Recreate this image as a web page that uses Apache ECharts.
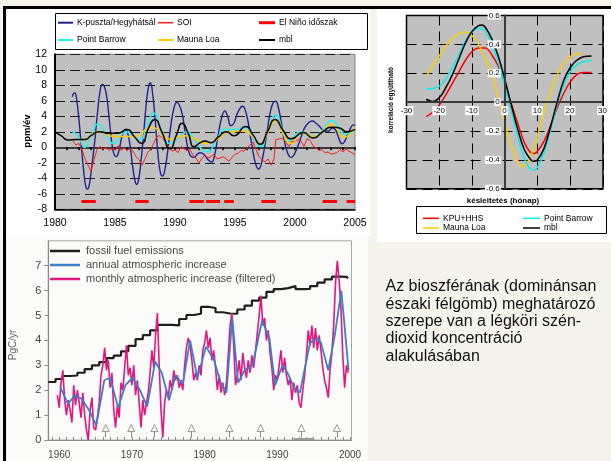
<!DOCTYPE html>
<html><head><meta charset="utf-8">
<script src="https://cdn.jsdelivr.net/npm/echarts@6/dist/echarts.min.js"></script>
<style>html,body{margin:0;padding:0;background:#f4f3ec;} #c{width:611px;height:461px;}</style>
</head><body><div id="c"></div><script>
// ---------- Panel A: growth rates (ppm/év) ----------
const kpuszta = [[1981.45,6.5],[1981.55,6.95],[1981.65,7.0],[1981.8,6.2],[1982.0,3.5],[1982.2,0.0],[1982.4,-3.2],[1982.55,-4.9],[1982.7,-5.4],[1982.85,-4.9],[1983.0,-3.3],[1983.3,0.6],[1983.55,4.6],[1983.75,7.2],[1983.95,8.1],[1984.1,7.9],[1984.3,6.6],[1984.55,3.2],[1984.8,-0.2],[1984.95,-1.0],[1985.1,-1.2],[1985.3,-0.6],[1985.55,1.2],[1985.75,2.1],[1985.9,2.35],[1986.05,1.9],[1986.25,0.3],[1986.45,-2.2],[1986.65,-4.2],[1986.8,-4.8],[1986.95,-4.3],[1987.15,-2.0],[1987.4,2.0],[1987.65,6.3],[1987.85,8.2],[1987.95,8.3],[1988.1,7.4],[1988.35,3.5],[1988.6,-1.2],[1988.8,-3.4],[1988.95,-3.7],[1989.1,-3.3],[1989.35,-1.0],[1989.65,2.8],[1989.95,5.3],[1990.15,5.8],[1990.35,5.5],[1990.6,4.3],[1990.85,1.9],[1991.1,-0.3],[1991.35,-1.2],[1991.6,-1.3],[1991.85,-0.9],[1992.1,-0.7],[1992.4,-0.9],[1992.75,-1.6],[1993.05,-1.9],[1993.3,-1.0],[1993.6,1.6],[1993.9,3.9],[1994.15,4.7],[1994.4,3.9],[1994.65,2.8],[1994.9,3.1],[1995.2,4.4],[1995.5,5.2],[1995.65,5.3],[1995.85,4.8],[1996.1,3.2],[1996.35,0.8],[1996.6,-1.4],[1996.8,-2.5],[1996.95,-2.8],[1997.1,-2.6],[1997.35,-1.0],[1997.65,1.8],[1997.95,4.6],[1998.2,5.8],[1998.4,5.95],[1998.6,5.2],[1998.85,3.3],[1999.1,1.0],[1999.35,-0.6],[1999.55,-1.2],[1999.7,-1.3],[1999.9,-1.0],[2000.2,0.0],[2000.5,1.3],[2000.8,2.5],[2001.15,3.2],[2001.45,3.4],[2001.75,3.1],[2002.1,2.6],[2002.45,2.1],[2002.8,2.1],[2003.1,2.5],[2003.35,2.3],[2003.6,1.4],[2003.8,0.6],[2003.95,0.45],[2004.15,0.8],[2004.4,1.7],[2004.65,2.5],[2004.85,2.9],[2005.0,2.8]];
const pointBarrow = [[1981.45,2.0],[1981.9,1.5],[1982.5,0.0],[1983.0,1.5],[1983.6,3.0],[1984.2,1.8],[1984.9,0.5],[1985.4,1.3],[1985.9,2.0],[1986.5,1.5],[1987.1,1.0],[1987.6,2.5],[1988.25,4.4],[1988.8,2.5],[1989.6,0.5],[1990.3,1.2],[1991.0,2.0],[1991.6,1.0],[1992.2,-0.2],[1992.7,-0.55],[1993.4,0.8],[1994.2,2.3],[1995.0,2.3],[1995.8,2.6],[1996.5,1.2],[1997.1,0.1],[1997.7,2.0],[1998.4,4.15],[1998.9,2.5],[1999.5,0.8],[2000.5,2.0],[2001.4,1.4],[2002.2,2.0],[2003.1,3.45],[2003.6,2.7],[2004.2,1.7],[2004.7,1.9],[2005.0,2.2]];
const maunaLoa = [[1981.45,1.0],[1982.3,1.0],[1983.7,2.0],[1985.0,1.4],[1986.7,1.4],[1988.0,2.6],[1988.8,2.0],[1989.7,1.0],[1990.8,1.5],[1991.5,1.2],[1992.6,0.5],[1993.5,1.0],[1994.5,2.0],[1995.7,2.1],[1996.4,1.5],[1997.1,0.4],[1997.7,1.8],[1998.4,3.4],[1999.0,1.8],[1999.7,0.5],[2000.6,1.9],[2001.6,1.4],[2002.3,2.0],[2003.0,3.0],[2003.5,2.4],[2004.1,1.3],[2004.6,1.7],[2005.0,2.6]];
const mbl = [[1980.0,2.0],[1980.5,1.5],[1981.1,0.95],[1981.8,1.0],[1982.5,1.0],[1983.0,1.5],[1983.7,2.0],[1984.5,1.8],[1985.2,1.8],[1986.0,2.3],[1986.6,1.4],[1987.2,0.5],[1987.8,2.5],[1988.3,3.6],[1988.9,2.0],[1989.6,-0.2],[1990.1,1.5],[1990.6,3.1],[1991.1,1.8],[1991.6,0.1],[1992.1,0.6],[1992.5,0.8],[1993.0,0.6],[1993.6,1.3],[1994.3,2.0],[1994.9,1.5],[1995.9,2.7],[1996.5,1.6],[1997.1,0.4],[1997.7,2.0],[1998.35,3.6],[1999.0,2.2],[1999.7,1.1],[2000.7,1.9],[2001.5,1.2],[2002.3,2.0],[2003.0,2.6],[2003.7,2.5],[2004.3,2.0],[2005.0,2.3]];
const soi = [[1981.5,0.8],[1981.75,0.3],[1982.0,0.5],[1982.25,-0.3],[1982.5,-1.5],[1982.75,-2.3],[1983.0,-3.1],[1983.25,-1.6],[1983.5,-0.3],[1983.75,0.1],[1984.0,-0.2],[1984.25,-0.1],[1984.5,-0.4],[1984.75,-0.2],[1985.0,-0.3],[1985.25,0.2],[1985.5,-0.4],[1985.75,-0.1],[1986.0,-0.4],[1986.25,-0.2],[1986.5,-0.5],[1986.75,-1.2],[1987.0,-1.6],[1987.25,-2.3],[1987.5,-1.5],[1987.75,-0.6],[1988.0,-0.2],[1988.25,0.6],[1988.5,1.4],[1988.75,1.5],[1989.0,1.1],[1989.25,0.6],[1989.5,0.0],[1989.75,-0.5],[1990.0,-0.3],[1990.25,-0.7],[1990.5,0.1],[1990.75,-0.2],[1991.0,-0.4],[1991.25,-0.3],[1991.5,-1.0],[1991.75,-1.4],[1992.0,-2.0],[1992.25,-1.4],[1992.5,-1.0],[1992.75,-1.4],[1993.0,-1.2],[1993.25,-0.9],[1993.5,-1.5],[1993.75,-1.4],[1994.0,-1.2],[1994.25,-1.5],[1994.5,-1.8],[1994.75,-1.3],[1995.0,-0.9],[1995.25,-0.8],[1995.5,-0.4],[1995.75,-0.5],[1996.0,-0.1],[1996.25,0.3],[1996.5,0.7],[1996.75,-0.3],[1997.0,-1.2],[1997.25,-1.6],[1997.5,-1.9],[1997.75,-1.5],[1998.0,-2.3],[1998.25,-1.5],[1998.4,1.0],[1998.75,1.1],[1999.0,1.2],[1999.25,0.6],[1999.5,0.1],[1999.75,0.8],[2000.0,0.7],[2000.25,1.0],[2000.5,0.8],[2000.75,0.1],[2001.0,1.1],[2001.25,0.9],[2001.5,0.2],[2001.75,-0.1],[2002.0,-0.4],[2002.25,-0.3],[2002.5,-0.7],[2002.75,-0.6],[2003.0,-0.9],[2003.25,-0.8],[2003.5,-0.7],[2003.75,-0.3],[2004.0,-0.6],[2004.25,-0.2],[2004.5,-0.5],[2004.75,-0.7],[2005.0,-1.0]];
const elNinoStart = [1982.2, 1986.7, 1991.2, 1992.6, 1994.1, 1997.2, 2002.3, 2004.3];
const elNinoEnd   = [1983.4, 1987.8, 1992.4, 1993.75, 1994.9, 1998.4, 2003.5, 2005.0];
const elNinoLevel = -7;

// ---------- Panel B: lag correlation ----------
const lagKPU = [[-24,-0.10],[-22,-0.07],[-20,-0.02],[-18,0.05],[-16,0.13],[-14,0.21],[-12,0.29],[-10,0.35],[-8,0.375],[-6,0.375],[-4,0.33],[-2,0.25],[0,0.13],[2,-0.01],[4,-0.15],[6,-0.28],[8,-0.35],[9,-0.355],[10,-0.34],[12,-0.27],[14,-0.16],[16,-0.04],[18,0.06],[20,0.14],[22,0.19],[24,0.205],[26.5,0.205]];
const lagBarrow = [[-24,0.09],[-22,0.095],[-20,0.11],[-18,0.16],[-16,0.24],[-14,0.33],[-12,0.42],[-10,0.485],[-8,0.51],[-7,0.51],[-6,0.49],[-4,0.41],[-2,0.28],[0,0.12],[2,-0.06],[4,-0.24],[6,-0.39],[8,-0.465],[9,-0.47],[10,-0.45],[12,-0.35],[14,-0.19],[16,-0.02],[18,0.12],[20,0.21],[22,0.26],[24,0.28],[26.5,0.29]];
const lagMauna = [[-24,0.18],[-22,0.25],[-20,0.32],[-18,0.39],[-16,0.44],[-14,0.475],[-12,0.485],[-10,0.46],[-8,0.40],[-6,0.31],[-4,0.19],[-2,0.03],[0,-0.14],[2,-0.30],[4,-0.42],[5,-0.445],[6,-0.44],[8,-0.37],[10,-0.23],[12,-0.07],[14,0.07],[16,0.19],[18,0.27],[20,0.315],[22,0.335],[23.5,0.33]];
const lagMbl = [[-24,0.02],[-22,0.005],[-20,0.03],[-18,0.10],[-16,0.19],[-14,0.30],[-12,0.41],[-10,0.49],[-8,0.53],[-7,0.535],[-6,0.52],[-4,0.44],[-2,0.32],[0,0.16],[2,-0.02],[4,-0.19],[6,-0.33],[8,-0.40],[9,-0.41],[10,-0.40],[12,-0.32],[14,-0.17],[16,0.0],[18,0.15],[20,0.24],[22,0.29],[24,0.315],[26.5,0.32]];

// ---------- Panel C: PgC/yr ----------
const fossil = [[1958.5,2.33],[1959.5,2.45],[1960.5,2.57],[1961.5,2.59],[1962.5,2.70],[1963.5,2.85],[1964.5,3.00],[1965.5,3.13],[1966.5,3.29],[1967.5,3.39],[1968.5,3.56],[1969.5,3.78],[1970.5,4.05],[1971.5,4.21],[1972.5,4.40],[1973.5,4.62],[1974.5,4.62],[1975.5,4.60],[1976.5,4.86],[1977.5,5.02],[1978.5,5.07],[1979.5,5.35],[1980.5,5.30],[1981.5,5.13],[1982.5,5.08],[1983.5,5.07],[1984.5,5.24],[1985.5,5.40],[1986.5,5.60],[1987.5,5.72],[1988.5,5.95],[1989.5,6.06],[1990.5,6.10],[1991.5,6.18],[1992.5,6.06],[1993.5,6.07],[1994.5,6.18],[1995.5,6.32],[1996.5,6.45],[1997.5,6.56],[1998.5,6.55],[1999.5,6.50],[1999.75,6.50]];
const annualIncrease = [[1960.1,2.15],[1961.2,1.45],[1962.2,1.8],[1963.1,1.65],[1964.1,1.2],[1965.1,0.6],[1966.2,2.4],[1967.0,2.5],[1968.1,1.3],[1969.1,2.2],[1970.1,2.5],[1971.1,2.0],[1972.1,1.35],[1973.2,3.15],[1974.1,2.7],[1975.1,1.6],[1976.0,2.6],[1977.0,2.25],[1978.0,4.0],[1979.0,2.5],[1980.2,3.75],[1981.3,3.2],[1982.2,2.3],[1983.0,1.9],[1983.8,4.9],[1984.6,2.3],[1985.5,2.8],[1986.6,3.0],[1987.9,4.8],[1988.9,4.1],[1989.7,2.2],[1990.7,3.0],[1991.4,2.7],[1992.3,2.1],[1993.1,1.9],[1994.5,3.9],[1995.5,4.1],[1996.0,3.9],[1997.0,2.8],[1997.9,4.2],[1998.8,6.0],[1999.8,2.8]];
const monthlyIncrease = [[1959.75,1.8],[1960.0,1.3],[1960.25,2.3],[1960.5,2.8],[1960.75,1.6],[1961.0,1.0],[1961.25,1.6],[1961.5,1.2],[1961.75,0.7],[1962.0,2.2],[1962.25,1.4],[1962.5,2.0],[1962.75,1.5],[1963.0,0.9],[1963.25,1.9],[1963.5,1.0],[1963.75,0.4],[1964.0,0.0],[1964.25,1.2],[1964.5,1.7],[1964.75,0.5],[1965.0,0.4],[1965.25,0.9],[1965.5,1.5],[1965.75,2.6],[1966.0,3.0],[1966.25,3.7],[1966.5,2.8],[1966.75,3.2],[1967.0,2.1],[1967.25,2.7],[1967.5,1.2],[1967.75,0.5],[1968.0,1.4],[1968.25,0.9],[1968.5,2.3],[1968.75,2.0],[1969.0,2.9],[1969.25,3.8],[1969.5,2.6],[1969.75,2.9],[1970.0,2.2],[1970.25,3.0],[1970.5,1.8],[1970.75,2.4],[1971.0,1.5],[1971.25,0.5],[1971.5,1.6],[1971.75,1.0],[1972.0,1.5],[1972.25,1.9],[1972.5,2.7],[1972.75,3.6],[1973.0,2.9],[1973.25,4.2],[1973.5,5.1],[1973.75,3.0],[1974.0,1.2],[1974.25,0.1],[1974.5,1.5],[1974.75,2.0],[1975.0,1.7],[1975.25,2.4],[1975.5,2.0],[1975.75,2.8],[1976.0,2.4],[1976.25,2.6],[1976.5,2.1],[1976.75,2.4],[1977.0,2.0],[1977.25,3.0],[1977.5,3.7],[1977.75,4.1],[1978.0,3.8],[1978.25,3.2],[1978.5,2.4],[1978.75,2.7],[1979.0,2.4],[1979.25,3.0],[1979.5,2.6],[1979.75,3.6],[1980.0,3.9],[1980.25,4.4],[1980.5,3.7],[1980.75,4.1],[1981.0,3.2],[1981.25,3.6],[1981.5,2.9],[1981.75,2.0],[1982.0,2.6],[1982.25,1.9],[1982.5,2.3],[1982.75,1.8],[1983.0,2.3],[1983.25,3.4],[1983.5,4.6],[1983.75,5.1],[1984.0,3.8],[1984.25,2.2],[1984.5,2.6],[1984.75,3.2],[1985.0,2.4],[1985.25,3.5],[1985.5,2.9],[1985.75,2.5],[1986.0,3.2],[1986.25,2.7],[1986.5,3.4],[1986.75,2.9],[1987.0,3.6],[1987.25,4.3],[1987.5,5.0],[1987.75,5.8],[1988.0,4.6],[1988.25,4.9],[1988.5,4.0],[1988.75,4.4],[1989.0,3.5],[1989.25,2.9],[1989.5,2.0],[1989.75,2.6],[1990.0,2.4],[1990.25,3.0],[1990.5,3.6],[1990.75,2.7],[1991.0,3.3],[1991.25,2.6],[1991.5,2.2],[1991.75,2.5],[1992.0,1.6],[1992.25,2.3],[1992.5,1.9],[1992.75,2.2],[1993.0,1.5],[1993.25,1.3],[1993.5,2.0],[1993.75,2.6],[1994.0,3.4],[1994.25,4.4],[1994.5,3.8],[1994.75,4.6],[1995.0,3.7],[1995.25,4.5],[1995.5,3.6],[1995.75,4.2],[1996.0,3.6],[1996.25,2.9],[1996.5,2.4],[1996.75,2.1],[1997.0,1.7],[1997.25,2.8],[1997.5,3.5],[1997.75,4.6],[1998.0,6.3],[1998.25,7.2],[1998.5,6.4],[1998.75,5.3],[1999.0,3.4],[1999.25,2.1],[1999.5,3.0],[1999.75,2.7]];
const eventYears = [1966.4, 1969.9, 1973.1, 1978.2, 1983.4, 1987.7, 1993.3, 1998.2];
const eventMarkerLevel = 0.48;
const decadeLabels = [1960, 1970, 1980, 1990, 2000];
const yearTicks = Array.from({length: 42}, (_, i) => 1959 + i);

const FONT = 'Liberation Sans, Arial, sans-serif';
const chart = echarts.init(document.getElementById('c'), null, {renderer: 'canvas', width: 611, height: 461});
const plain = v => String(+(+v).toFixed(2));

function lineSeries(name, data, color, width, xi, yi, extra) {
  return Object.assign({
    type: 'line', name, data, xAxisIndex: xi, yAxisIndex: yi,
    showSymbol: false, symbol: 'none', color, lineStyle: {width, color},
    animation: false, silent: true
  }, extra || {});
}
function singleLegend(name, left, top, w, h, fs) {
  return {
    data: [name], left, top, padding: 0, itemWidth: w, itemHeight: h,
    icon: 'rect', selectedMode: false,
    textStyle: {fontSize: fs, color: '#000', fontFamily: FONT, lineHeight: 10, padding: [0, 0, 0, -1]}
  };
}
const hiddenAxis = (gi, min, max) => ({gridIndex: gi, type: 'value', min, max, show: false});

// geometry of the panels (pixels)
const gA = {left: 55, top: 54.3, width: 300, height: 155};
const gB = {left: 406.5, top: 15.5, width: 196.5, height: 173.3};
const gC = {left: 48.3, top: 240.8, width: 303.2, height: 199.2};

const option = {
  backgroundColor: '#f4f3ec',
  animation: false,
  textStyle: {fontFamily: FONT},
  graphic: [
    {type: 'rect', z: -20, shape: {x: 7, y: 9, width: 363, height: 227}, style: {fill: '#ffffff'}},
    {type: 'rect', z: -20, shape: {x: 377, y: 9, width: 234, height: 233}, style: {fill: '#ffffff'}},
    {type: 'rect', z: -20, shape: {x: 7, y: 236, width: 361, height: 225}, style: {fill: '#fbfbfa'}},
    {type: 'rect', z: 50, shape: {x: 3, y: 6, width: 608, height: 3}, style: {fill: '#000'}},
    {type: 'rect', z: 50, shape: {x: 3, y: 6, width: 3, height: 455}, style: {fill: '#000'}},
    {type: 'rect', z: -5, shape: {x: 55.5, y: 13.5, width: 312, height: 36}, style: {fill: '#fff', stroke: '#000', lineWidth: 1}},
    {type: 'rect', z: -5, shape: {x: 416.5, y: 206.5, width: 190, height: 27}, style: {fill: '#fff', stroke: '#000', lineWidth: 1}},
    {type: 'text', z: 10, x: 27, y: 131, rotation: Math.PI / 2,
      style: {text: 'ppm/év', font: 'bold 9.5px ' + FONT, fill: '#000', align: 'center', verticalAlign: 'middle'}},
    {type: 'text', z: 10, x: 391, y: 100, rotation: Math.PI / 2,
      style: {text: 'korreláció együttható', font: 'bold 6.5px ' + FONT, fill: '#000', align: 'center', verticalAlign: 'middle'}},
    {type: 'text', z: 10, x: 503, y: 201,
      style: {text: 'késleltetés (hónap)', font: 'bold 8px ' + FONT, fill: '#000', align: 'center', verticalAlign: 'middle'}},
    {type: 'text', z: 10, x: 13, y: 345, rotation: Math.PI / 2,
      style: {text: 'PgC/yr', font: '10px ' + FONT, fill: '#666', align: 'center', verticalAlign: 'middle'}},
    {type: 'text', z: 10, x: 385.5, y: 278,
      style: {text: 'Az bioszférának (dominánsan\nészaki félgömb) meghatározó\nszerepe van a légköri szén-\ndioxid koncentráció\nalakulásában',
        font: '16px ' + FONT, lineHeight: 17.4, fill: '#111', align: 'left', verticalAlign: 'top'}}
  ],
  legend: [
    singleLegend('K-puszta/Hegyhátsál', 58, 17.7, 15, 2, 8.5),
    singleLegend('SOI', 158, 17.7, 15, 1.5, 8.5),
    singleLegend('El Niño időszak', 259, 17.7, 16, 3, 8.5),
    singleLegend('Point Barrow', 58, 35, 15, 2, 8.5),
    singleLegend('Mauna Loa', 158, 35, 15, 2, 8.5),
    singleLegend('mbl', 259, 35, 16, 2, 8.5),
    singleLegend('KPU+HHS', 423, 213.3, 16, 1.5, 8.5),
    singleLegend('Point Barrow ', 523, 213.3, 17, 1.5, 8.5),
    singleLegend('Mauna Loa ', 423, 223, 16, 1.5, 8.5),
    singleLegend('mbl ', 523, 223, 17, 1.5, 8.5),
    {data: ['fossil fuel emissions', 'annual atmospheric increase', 'monthly atmospheric increase (filtered)'],
      orient: 'vertical', left: 50, top: 244, padding: 0, itemGap: 0, itemWidth: 30, itemHeight: 2.5,
      icon: 'rect', selectedMode: false,
      textStyle: {fontSize: 11, color: '#4a4a4a', fontFamily: FONT, lineHeight: 14, padding: [0, 0, 0, 1]}}
  ],
  grid: [
    Object.assign({show: true, backgroundColor: '#c0c0c0', borderColor: '#808080', borderWidth: 1}, gA),        // 0: panel A
    Object.assign({show: true, backgroundColor: '#c0c0c0', borderColor: '#000', borderWidth: 1.5}, gB),         // 1: panel B
    Object.assign({show: true, backgroundColor: 'rgba(0,0,0,0)', borderColor: '#a8a8a8', borderWidth: 1}, gC),  // 2: panel C
    {left: gA.left, top: gA.top, width: gA.width, height: gA.height * 12 / 20},                                 // 3: A zero line
    {left: gB.left + gB.width / 2, top: gB.top, width: gB.width / 2, height: gB.height},                        // 4: B vertical axis at lag 0
    {left: gB.left, top: gB.top, width: gB.width, height: gB.height / 2}                                        // 5: B horizontal axis at r = 0
  ],
  xAxis: [
    {gridIndex: 0, type: 'value', min: 1980, max: 2005, interval: 5,
      axisLine: {onZero: false, lineStyle: {color: '#000', width: 1.5}}, axisTick: {show: false},
      axisLabel: {fontSize: 10.5, color: '#000', margin: 8, formatter: plain}, splitLine: {show: false}},
    {gridIndex: 1, type: 'value', min: -30, max: 30, interval: 10,
      axisLine: {show: false}, axisTick: {show: false}, axisLabel: {show: false},
      splitLine: {show: true, lineStyle: {color: '#000', type: [10, 6], width: 1}}},
    {gridIndex: 2, type: 'value', min: 1958.5, max: 2000.2,
      axisLine: {onZero: false, lineStyle: {color: '#8a8a8a', width: 1.2}},
      axisTick: {show: true, inside: true, length: 3, customValues: yearTicks, lineStyle: {color: '#8a8a8a'}},
      axisLabel: {customValues: decadeLabels, fontSize: 10, color: '#444', margin: 10, formatter: plain},
      splitLine: {show: false}},
    {gridIndex: 3, type: 'value', min: 1980, max: 2005, interval: 1, position: 'bottom',
      axisLine: {onZero: false, lineStyle: {color: '#3a3a3a', width: 2}},
      axisTick: {show: true, length: 3, lineStyle: {color: '#000', width: 1.5}},
      axisLabel: {show: false}, splitLine: {show: false}},
    hiddenAxis(4, 0, 30),
    {gridIndex: 5, type: 'value', min: -30, max: 30, interval: 10, position: 'bottom', z: 5,
      axisLine: {onZero: false, lineStyle: {color: '#3a3a3a', width: 2}}, axisTick: {show: false},
      axisLabel: {fontSize: 8, color: '#000', margin: 4, backgroundColor: '#fff', padding: [1, 1, 0, 1], formatter: plain},
      splitLine: {show: false}}
  ],
  yAxis: [
    {gridIndex: 0, type: 'value', min: -8, max: 12, interval: 2,
      axisLine: {show: true, onZero: false, lineStyle: {color: '#000', width: 2}}, axisTick: {show: false},
      axisLabel: {fontSize: 10.5, color: '#000', margin: 8},
      splitLine: {show: true, lineStyle: {color: '#1a1a1a', type: [10, 5], width: 1.2}}},
    {gridIndex: 1, type: 'value', min: -0.6, max: 0.6, interval: 0.2,
      axisLine: {show: false}, axisTick: {show: false}, axisLabel: {show: false},
      splitLine: {show: true, lineStyle: {color: '#000', type: [10, 6], width: 1}}},
    {gridIndex: 2, type: 'value', min: 0, max: 8, interval: 1,
      axisLine: {show: true, onZero: false, lineStyle: {color: '#8a8a8a', width: 1.2}},
      axisTick: {show: true, length: 4, lineStyle: {color: '#8a8a8a'}},
      axisLabel: {fontSize: 11, color: '#444', margin: 7, showMaxLabel: false}, splitLine: {show: false}},
    hiddenAxis(3, 0, 12),
    {gridIndex: 4, type: 'value', min: -0.6, max: 0.6, interval: 0.2, position: 'left', z: 5,
      axisLine: {show: true, onZero: false, lineStyle: {color: '#3a3a3a', width: 2}}, axisTick: {show: false},
      axisLabel: {fontSize: 8, color: '#000', margin: 4, backgroundColor: '#fff', padding: [0, 1, 0, 1], formatter: plain},
      splitLine: {show: false}},
    hiddenAxis(5, 0, 0.6)
  ],
  series: [
    lineSeries('K-puszta/Hegyhátsál', kpuszta, '#22228f', 1.4, 0, 0, {smooth: 0.5}),
    lineSeries('SOI', soi, '#ff1a1a', 1, 0, 0),
    lineSeries('El Niño időszak', [], '#ff0000', 3, 0, 0, {
      markLine: {symbol: ['none', 'none'], silent: true, animation: false, label: {show: false},
        lineStyle: {color: '#ff0000', width: 3, type: 'solid'},
        data: elNinoStart.map((s, i) => [{coord: [s, elNinoLevel]}, {coord: [elNinoEnd[i], elNinoLevel]}])}}),
    lineSeries('Point Barrow', pointBarrow, '#28f0f0', 1.6, 0, 0, {smooth: 0.6}),
    lineSeries('Mauna Loa', maunaLoa, '#ffcc00', 1.5, 0, 0, {smooth: 0.6}),
    lineSeries('mbl', mbl, '#000000', 1.5, 0, 0, {smooth: 0.6}),

    lineSeries('KPU+HHS', lagKPU, '#ff0000', 1.5, 1, 1, {smooth: 0.4}),
    lineSeries('Mauna Loa ', lagMauna, '#ffcc00', 1.5, 1, 1, {smooth: 0.4}),
    lineSeries('Point Barrow ', lagBarrow, '#00f0f0', 1.5, 1, 1, {smooth: 0.4}),
    lineSeries('mbl ', lagMbl, '#000000', 1.5, 1, 1, {smooth: 0.4}),

    lineSeries('fossil fuel emissions', fossil, '#1e1e1e', 2.2, 2, 2, {step: 'end'}),
    lineSeries('monthly atmospheric increase (filtered)', monthlyIncrease, '#e3167f', 1.6, 2, 2),
    lineSeries('annual atmospheric increase', annualIncrease, '#3d7ec5', 1.8, 2, 2),
    {type: 'scatter', name: 'events', xAxisIndex: 2, yAxisIndex: 2, silent: true, animation: false,
      data: eventYears.map(y => [y, eventMarkerLevel]), symbol: 'triangle', symbolSize: [7, 7],
      itemStyle: {color: '#ffffff', borderColor: '#808080', borderWidth: 1},
      markLine: {symbol: ['none', 'none'], silent: true, animation: false, label: {show: false},
        lineStyle: {color: '#8a8a8a', width: 1, type: 'solid'},
        data: eventYears.map(y => [{coord: [y, 0.1]}, {coord: [y, 0.36]}]).concat([
          [{coord: [1992.2, 0.06], lineStyle: {width: 2, color: '#999'}}, {coord: [1995.0, 0.06]}]
        ])}}
  ]
};
chart.setOption(option);
</script></body></html>
